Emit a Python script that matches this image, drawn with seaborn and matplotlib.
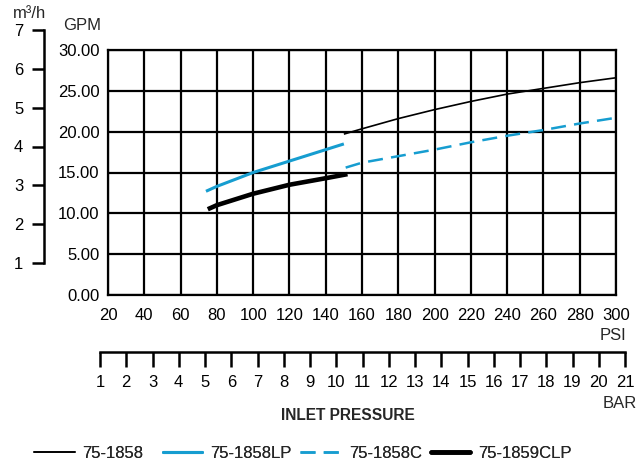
import matplotlib
matplotlib.use("Agg")
import matplotlib.pyplot as plt
import seaborn as sns
import pandas as pd
from matplotlib.lines import Line2D

# ---- data ----
psi_1858 = [150, 160, 180, 200, 220, 240, 260, 280, 300]
gpm_1858 = [19.7, 20.35, 21.6, 22.7, 23.7, 24.6, 25.3, 26.0, 26.6]

psi_1858lp = [74, 80, 100, 120, 140, 150]
gpm_1858lp = [12.7, 13.3, 15.0, 16.4, 17.8, 18.5]

psi_1858c = [151, 160, 180, 200, 220, 240, 260, 280, 300]
gpm_1858c = [15.6, 16.2, 17.0, 17.8, 18.7, 19.5, 20.2, 21.0, 21.7]

psi_1859clp = [75, 80, 100, 120, 140, 152]
gpm_1859clp = [10.5, 11.0, 12.4, 13.5, 14.3, 14.8]

series_names = ["75-1858", "75-1858LP", "75-1858C", "75-1859CLP"]
psi_ticks = list(range(20, 301, 20))
gpm_ticks = [0, 5, 10, 15, 20, 25, 30]
m3h_ticks = [1, 2, 3, 4, 5, 6, 7]
bar_ticks = list(range(1, 22))

BLUE = "#169dd0"

sns.set_theme(style="white")
plt.rcParams["font.family"] = ["Liberation Sans", "DejaVu Sans"]

W, H = 636, 466
fig = plt.figure(figsize=(W / 100, H / 100), dpi=100)

def px_axes(x0, y0, x1, y1):
    return fig.add_axes([x0 / W, (H - y1) / H, (x1 - x0) / W, (y1 - y0) / H])

# ---- main chart ----
ax = px_axes(108, 50, 616, 295)
styles = [
    (psi_1858, gpm_1858, dict(color="black", linewidth=1.2, linestyle="-")),
    (psi_1858lp, gpm_1858lp, dict(color=BLUE, linewidth=2.2, linestyle="-")),
    (psi_1858c, gpm_1858c, dict(color=BLUE, linewidth=1.8, linestyle=(0, (6, 3.3)))),
    (psi_1859clp, gpm_1859clp, dict(color="black", linewidth=3.3, linestyle="-")),
]
for name, (xs, ys, kw) in zip(series_names, styles):
    df = pd.DataFrame({"psi": xs, "gpm": ys})
    sns.lineplot(data=df, x="psi", y="gpm", ax=ax, legend=False,
                 errorbar=None, zorder=5, solid_capstyle="butt", **kw)

ax.set_xlim(20, 300)
ax.set_ylim(0, 30)
ax.set_xticks(psi_ticks)
ax.set_yticks(gpm_ticks)
ax.set_xticklabels([str(v) for v in psi_ticks])
ax.set_yticklabels([f"{v:.2f}" for v in gpm_ticks])
ax.grid(True, color="black", linewidth=1.6)
ax.set_axisbelow(True)
for s in ax.spines.values():
    s.set_color("black")
    s.set_linewidth(1.6)
ax.tick_params(axis="x", length=0, pad=9, labelsize=12, colors="black")
ax.tick_params(axis="y", length=0, pad=6, labelsize=12, colors="black")
ax.set_xlabel("")
ax.set_ylabel("")

# ---- m3/h scale ----
axm = px_axes(44, 30, 54, 263)
axm.set_ylim(1, 7)
axm.set_xlim(0, 1)
axm.set_yticks(m3h_ticks)
axm.set_yticklabels([str(v) for v in m3h_ticks])
axm.set_xticks([])
for k, s in axm.spines.items():
    s.set_visible(k == "left")
axm.spines["left"].set_linewidth(1.8)
axm.spines["left"].set_color("black")
axm.tick_params(axis="y", direction="out", length=9, width=1.8, pad=6,
                labelsize=12, colors="black", left=True)
axm.patch.set_alpha(0)

# ---- BAR scale ----
axb = px_axes(100, 342, 625, 352)
axb.set_xlim(1, 21)
axb.set_ylim(0, 1)
axb.set_xticks(bar_ticks)
axb.set_xticklabels([str(v) for v in bar_ticks])
axb.set_yticks([])
for k, s in axb.spines.items():
    s.set_visible(k == "bottom")
axb.spines["bottom"].set_linewidth(1.8)
axb.spines["bottom"].set_color("black")
axb.tick_params(axis="x", direction="out", length=10.5, width=1.8, pad=6,
                labelsize=12, colors="black", bottom=True)
axb.patch.set_alpha(0)

# ---- texts ----
def px_text(x, y, s, **kw):
    fig.text(x / W, (H - y) / H, s, **kw)

px_text(30, 14, "m³/h", ha="center", va="center", fontsize=12)
px_text(82, 25, "GPM", ha="center", va="center", fontsize=12)
px_text(613, 335, "PSI", ha="center", va="center", fontsize=12)
px_text(620, 403, "BAR", ha="center", va="center", fontsize=12)
px_text(348, 416, "INLET PRESSURE", ha="center", va="center", fontsize=11.2,
        fontweight="bold")

# ---- legend (one entry per block, placed like the reference) ----
legend_x = [34, 163, 300, 431]
handle_len = [2.45, 2.35, 2.5, 2.35]
for name, (_, _, kw), lx, hl in zip(series_names, styles, legend_x, handle_len):
    h = Line2D([], [], **kw)
    leg = fig.legend([h], [name], loc="center left",
                     bbox_to_anchor=(lx / W, (H - 453) / H), frameon=False,
                     fontsize=12, handlelength=hl, handletextpad=0.45,
                     borderpad=0, borderaxespad=0)
    fig.add_artist(leg)

fig.savefig("out.png", dpi=100)
